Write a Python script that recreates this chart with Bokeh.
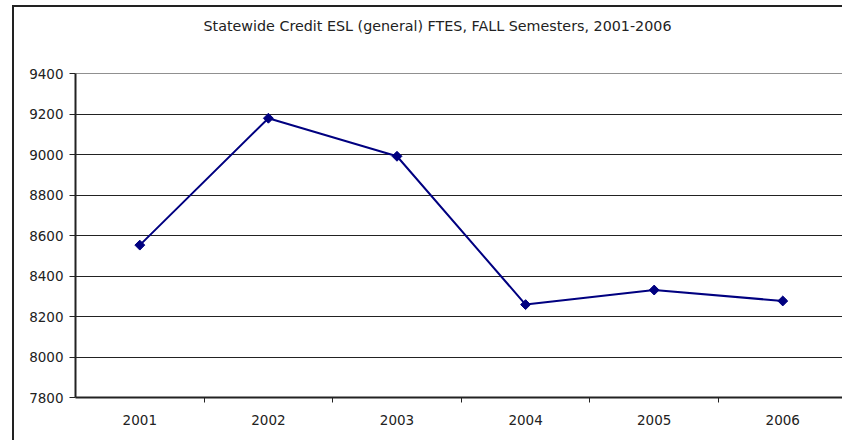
import math
from bokeh.plotting import figure
from bokeh.models import Range1d, FixedTicker, Title
from bokeh.embed import file_html
from bokeh.resources import INLINE

years = [2001, 2002, 2003, 2004, 2005, 2006]
ftes = [8553, 9180, 8992, 8259, 8331, 8277]
y_ticks = [7800, 8000, 8200, 8400, 8600, 8800, 9000, 9200, 9400]
title_text = "Statewide Credit ESL (general) FTES, FALL Semesters, 2001-2006"

FONT = "DejaVu Sans"

p = figure(width=830, height=435, output_backend="svg", toolbar_location=None,
           x_range=Range1d(2000.5, 2006.48), y_range=Range1d(7800, 9401),
           min_border_left=61, min_border_right=0, min_border_top=66,
           min_border_bottom=45)
p.margin = (5, 0, 0, 12)
p.styles = {"border-left": "2px solid #222", "border-top": "2px solid #222"}

# spacer (closest to the frame), then the real title above it
spacer = Title(text=" ", text_font=FONT, text_font_size="14px", standoff=15)
p.add_layout(spacer, "above")
t = Title(text=title_text, align="left", offset=128, text_font=FONT,
          text_font_size="14.3px", text_font_style="normal", text_color="#222",
          vertical_align="top", standoff=10)
p.add_layout(t, "above")

p.line(years, ftes, line_color="#000080", line_width=2)
p.scatter(years, ftes, marker="square", angle=math.pi / 4, size=7,
          fill_color="#000080", line_color="#000080")

p.outline_line_color = None
p.background_fill_color = "white"
p.border_fill_color = "white"

# x axis
p.xaxis.ticker = FixedTicker(ticks=years,
                             minor_ticks=[2001.5, 2002.5, 2003.5, 2004.5, 2005.5])
p.xaxis.major_tick_out = 0
p.xaxis.major_tick_in = 0
p.xaxis.minor_tick_out = 5
p.xaxis.minor_tick_in = 0
p.xaxis.minor_tick_line_color = "#222"
p.xaxis.axis_line_color = "#222"
p.xaxis.axis_line_width = 2
p.xaxis.major_label_text_font = FONT
p.xaxis.major_label_text_font_size = "13.5px"
p.xaxis.major_label_text_color = "#222"
p.xaxis.major_label_standoff = 12
p.xgrid.grid_line_color = None

# y axis
p.yaxis.ticker = FixedTicker(ticks=y_ticks)
p.yaxis.minor_tick_line_color = None
p.yaxis.major_tick_out = 6
p.yaxis.major_tick_in = 0
p.yaxis.major_tick_line_color = "#222"
p.yaxis.axis_line_color = "#222"
p.yaxis.axis_line_width = 2
p.yaxis.major_label_text_font = FONT
p.yaxis.major_label_text_font_size = "13.5px"
p.yaxis.major_label_text_color = "#222"
p.yaxis.major_label_standoff = 6
p.ygrid.grid_line_color = "#222"
p.ygrid.grid_line_width = 1

open("out.html", "w").write(file_html(p, INLINE))
